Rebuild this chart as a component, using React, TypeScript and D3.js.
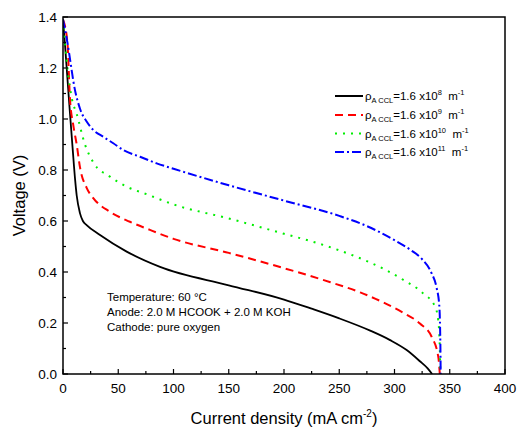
import React, { useEffect, useRef } from "react";
import * as d3 from "d3";

// current density (mA cm-2) and voltage (V)
const iA = [0, 2, 4, 6, 8.7, 11, 12.4, 15.4, 18, 21.4, 33.5, 57.6, 87.8, 150, 200, 225, 250, 278, 296, 311, 323, 330, 334];
const vA = [1.39, 1.28, 1.16, 1.04, 0.886, 0.76, 0.7, 0.63, 0.6, 0.584, 0.545, 0.48, 0.42, 0.348, 0.292, 0.256, 0.218, 0.17, 0.133, 0.094, 0.05, 0.022, 0];

const iB = [0, 4, 6.3, 9.3, 12.4, 15.4, 21.4, 27.4, 42.5, 60.6, 78.7, 100, 150, 200, 242, 269, 293, 308, 323, 333.6, 339.6, 340.5, 341];
const vB = [1.39, 1.3, 1.08, 0.976, 0.9, 0.81, 0.73, 0.69, 0.636, 0.597, 0.565, 0.53, 0.475, 0.415, 0.36, 0.32, 0.274, 0.24, 0.198, 0.146, 0.068, 0.03, 0];

const iC = [0, 4, 8, 12.4, 19.9, 27.4, 42.5, 57.6, 75.7, 100, 150, 200, 225, 250, 278, 293, 308, 326, 336.7, 339.6, 341, 341.5];
const vC = [1.39, 1.2, 1.08, 1.02, 0.9, 0.83, 0.774, 0.735, 0.705, 0.665, 0.61, 0.55, 0.52, 0.485, 0.437, 0.406, 0.369, 0.316, 0.264, 0.21, 0.1, 0];

const iD = [0, 4, 7.9, 9.3, 15.4, 21.4, 27.4, 36.5, 45.5, 54.6, 69.7, 84.8, 100, 150, 200, 250, 275, 300, 315, 325, 333.6, 338, 340.5, 341.5, 341.8];
const vD = [1.39, 1.3, 1.19, 1.15, 1.04, 0.99, 0.957, 0.93, 0.905, 0.878, 0.852, 0.826, 0.805, 0.74, 0.68, 0.62, 0.58, 0.525, 0.485, 0.45, 0.395, 0.34, 0.27, 0.12, 0];

const exps = ["8", "9", "10", "11"];
const colors = ["#000000", "#ff0000", "#00ee00", "#0000ff"];
const dashes = ["none", "8,5", "2,6", "9,3,2,3"];

const xTicks = [0, 50, 100, 150, 200, 250, 300, 350, 400];
const yTicks = [0, 0.2, 0.4, 0.6, 0.8, 1.0, 1.2, 1.4];

const notes = ["Temperature: 60 °C", "Anode: 2.0 M HCOOK + 2.0 M KOH", "Cathode: pure oxygen"];

export default function App() {
  const ref = useRef<SVGSVGElement>(null);

  useEffect(() => {
    const svg = d3.select(ref.current);
    svg.selectAll("*").remove();
    const font = "'Liberation Sans', Arial, sans-serif";
    const left = 63, right = 505, top = 17, bottom = 374;

    const x = d3.scaleLinear().domain([0, 400]).range([left, right]);
    const y = d3.scaleLinear().domain([0, 1.4]).range([bottom, top]);

    const series = [
      [iA, vA],
      [iB, vB],
      [iC, vC],
      [iD, vD],
    ];

    const line = d3
      .line<[number, number]>()
      .x((d) => x(d[0]))
      .y((d) => y(d[1]))
      .curve(d3.curveMonotoneX);

    const clip = svg.append("clipPath").attr("id", "plotclip");
    clip.append("rect").attr("x", left).attr("y", top).attr("width", right - left).attr("height", bottom - top);

    series.forEach((s, k) => {
      const pts = s[0].map((v, j) => [v, s[1][j]] as [number, number]);
      svg
        .append("path")
        .attr("d", line(pts))
        .attr("fill", "none")
        .attr("stroke", colors[k])
        .attr("stroke-width", k === 0 ? 1.8 : 2)
        .attr("stroke-dasharray", dashes[k])
        .attr("clip-path", "url(#plotclip)");
    });

    // frame
    svg
      .append("rect")
      .attr("x", left)
      .attr("y", top)
      .attr("width", right - left)
      .attr("height", bottom - top)
      .attr("fill", "none")
      .attr("stroke", "#000")
      .attr("stroke-width", 1.5);

    // x ticks (inward)
    d3.range(0, 401, 25).forEach((t) => {
      const major = t % 50 === 0;
      svg
        .append("line")
        .attr("x1", x(t))
        .attr("x2", x(t))
        .attr("y1", bottom)
        .attr("y2", bottom - (major ? 5 : 3))
        .attr("stroke", "#000")
        .attr("stroke-width", 1.2);
    });
    xTicks.forEach((t) => {
      svg
        .append("text")
        .attr("x", x(t))
        .attr("y", bottom + 19)
        .attr("text-anchor", "middle")
        .attr("font-family", font)
        .attr("font-size", 13.5)
        .text(t);
    });

    // y ticks (inward)
    d3.range(0, 15).forEach((k) => {
      const t = k / 10;
      const major = k % 2 === 0;
      svg
        .append("line")
        .attr("x1", left)
        .attr("x2", left + (major ? 5 : 3))
        .attr("y1", y(t))
        .attr("y2", y(t))
        .attr("stroke", "#000")
        .attr("stroke-width", 1.2);
    });
    yTicks.forEach((t) => {
      svg
        .append("text")
        .attr("x", left - 6)
        .attr("y", y(t) + 5)
        .attr("text-anchor", "end")
        .attr("font-family", font)
        .attr("font-size", 13.5)
        .text(t.toFixed(1));
    });

    // axis titles
    const xt = svg
      .append("text")
      .attr("x", (left + right) / 2)
      .attr("y", 424)
      .attr("text-anchor", "middle")
      .attr("font-family", font)
      .attr("font-size", 16.5);
    xt.append("tspan").text("Current density (mA cm");
    xt.append("tspan").attr("dy", -7).attr("font-size", 10).text("-2");
    xt.append("tspan").attr("dy", 7).text(")");

    svg
      .append("text")
      .attr("transform", `translate(25,${(top + bottom) / 2}) rotate(-90)`)
      .attr("text-anchor", "middle")
      .attr("font-family", font)
      .attr("font-size", 16.5)
      .text("Voltage (V)");

    // legend
    const legY = [96, 115, 133.5, 152];
    exps.forEach((e, k) => {
      svg
        .append("line")
        .attr("x1", 335)
        .attr("x2", 363)
        .attr("y1", legY[k])
        .attr("y2", legY[k])
        .attr("stroke", colors[k])
        .attr("stroke-width", 2)
        .attr("stroke-dasharray", dashes[k]);
      const t = svg
        .append("text")
        .attr("x", 365)
        .attr("y", legY[k] + 4)
        .attr("font-family", font)
        .attr("font-size", 11.5);
      t.append("tspan").text("ρ");
      t.append("tspan").attr("dy", 3).attr("font-size", 7.5).text("A CCL");
      t.append("tspan").attr("dy", -3).text("=1.6 x10");
      t.append("tspan").attr("dy", -5).attr("font-size", 7.5).text(e);
      t.append("tspan").attr("dy", 5).text("\u00a0 m");
      t.append("tspan").attr("dy", -5).attr("font-size", 7.5).text("-1");
    });

    // notes
    notes.forEach((n, k) => {
      svg
        .append("text")
        .attr("x", 107)
        .attr("y", 301 + k * 15)
        .attr("font-family", font)
        .attr("font-size", 11.5)
        .text(n);
    });
  }, []);

  return (
    <svg
      ref={ref}
      width={521}
      height={434}
      style={{ position: "absolute", left: 0, top: 0, background: "#fff" }}
    />
  );
}
